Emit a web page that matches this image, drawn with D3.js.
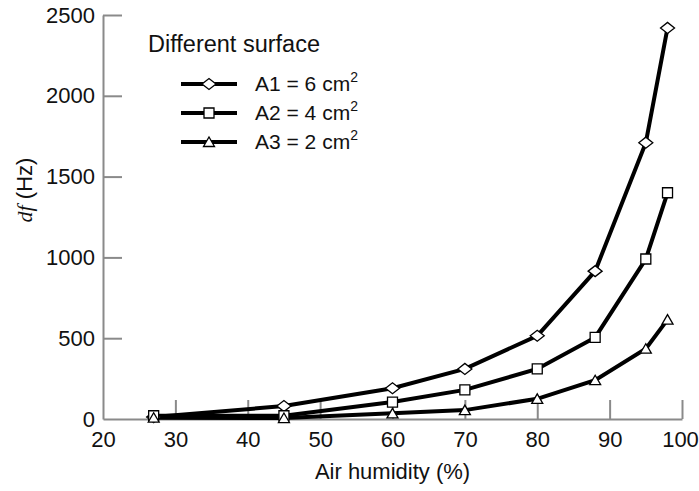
<!DOCTYPE html>
<html>
<head>
<meta charset="utf-8">
<script src="https://cdn.jsdelivr.net/npm/d3@7"></script>
<style>
  html, body { margin: 0; padding: 0; background: #fff; }
  svg { display: block; }
  text { font-family: "Liberation Sans", Arial, Helvetica, sans-serif; fill: #111; }
</style>
</head>
<body>
<svg id="chart" width="699" height="491"></svg>
<script>
// ---- data ----
const humidity = [27, 45, 60, 70, 80, 88, 95, 98];
const seriesNames = ["A1", "A2", "A3"];
const seriesAreas = ["6", "4", "2"];
const seriesMarkers = ["diamond", "square", "triangle"];
const valuesA1 = [12, 80, 190, 310, 515, 915, 1710, 2420];
const valuesA2 = [20, 20, 105, 180, 310, 505, 990, 1400];
const valuesA3 = [8, 6, 35, 55, 125, 240, 435, 615];
const xTicks = [20, 30, 40, 50, 60, 70, 80, 90, 100];
const yTicks = [0, 500, 1000, 1500, 2000, 2500];
const legendTitle = "Different surface";
const xTitle = "Air humidity (%)";

const seriesValues = [valuesA1, valuesA2, valuesA3];

const svg = d3.select("#chart");
const x = d3.scaleLinear().domain([20, 100]).range([103, 682]);
const y = d3.scaleLinear().domain([0, 2500]).range([419, 15]);

const axisColor = "#8a8a8a";

// axes
const gx = svg.append("g").attr("transform", `translate(0,${y(0)})`)
  .call(d3.axisBottom(x).tickValues(xTicks).tickFormat(d3.format("d"))
    .tickSizeInner(-19).tickSizeOuter(0).tickPadding(12));
const gy = svg.append("g").attr("transform", `translate(${x(20)},0)`)
  .call(d3.axisLeft(y).tickValues(yTicks).tickFormat(d3.format("d"))
    .tickSizeInner(-19).tickSizeOuter(0).tickPadding(8));
[gx, gy].forEach(g => {
  g.select(".domain").attr("stroke", axisColor).attr("stroke-width", 2);
  g.selectAll(".tick line").attr("stroke", axisColor).attr("stroke-width", 2);
  g.selectAll(".tick text").attr("font-size", 22).attr("fill", "#111")
    .attr("font-family", "'Liberation Sans', Arial, sans-serif");
});
gx.selectAll(".tick text").attr("dy", "0.71em");
gx.selectAll(".tick").filter(d => d === 100).select("text").attr("dx", -2);
gx.selectAll(".tick").filter(d => d === 20).select("line").remove();
gy.selectAll(".tick").filter(d => d === 0).select("line").remove();

// axis titles
svg.append("text").attr("x", x(60)).attr("y", 479).attr("text-anchor", "middle")
  .attr("font-size", 22).text(xTitle);
const yl = svg.append("text").attr("transform", `translate(32,190) rotate(-90)`)
  .attr("text-anchor", "middle").attr("font-size", 22);
yl.append("tspan").attr("font-family", "'Liberation Serif', 'Times New Roman', serif")
  .attr("font-style", "italic").text("df");
yl.append("tspan").text(" (Hz)");

// marker shapes
function markerPath(kind) {
  if (kind === "diamond") return "M-7,0L0,-5.5L7,0L0,5.5Z";
  if (kind === "square") return "M-5,-5L5,-5L5,5L-5,5Z";
  return "M-5.5,4.5L0,-5L5.5,4.5Z";
}

const line = d3.line().x((d, i) => x(humidity[i])).y(d => y(d));

seriesValues.forEach((vals) => {
  svg.append("path").datum(vals).attr("d", line)
    .attr("fill", "none").attr("stroke", "#000").attr("stroke-width", 4)
    .attr("stroke-linejoin", "miter");
});
seriesValues.forEach((vals, si) => {
  svg.append("g").selectAll("path").data(vals).join("path")
    .attr("transform", (d, i) => `translate(${x(humidity[i])},${y(d)})`)
    .attr("d", markerPath(seriesMarkers[si]))
    .attr("fill", "#fff").attr("stroke", "#000").attr("stroke-width", 1.3);
});

// legend
svg.append("text").attr("x", 148).attr("y", 52).attr("font-size", 23.5).text(legendTitle);
const legY = [84, 113, 142];
seriesNames.forEach((name, i) => {
  const g = svg.append("g").attr("transform", `translate(0,${legY[i]})`);
  g.append("line").attr("x1", 181).attr("x2", 237).attr("y1", 0).attr("y2", 0)
    .attr("stroke", "#000").attr("stroke-width", 4);
  g.append("path").attr("transform", "translate(209,0)").attr("d", markerPath(seriesMarkers[i]))
    .attr("fill", "#fff").attr("stroke", "#000").attr("stroke-width", 1.3);
  const t = g.append("text").attr("x", 255).attr("y", 7).attr("font-size", 21);
  t.append("tspan").text(`${name} = ${seriesAreas[i]} cm`);
  t.append("tspan").attr("font-size", 14).attr("dy", -9).text("2");
});
</script>
</body>
</html>
